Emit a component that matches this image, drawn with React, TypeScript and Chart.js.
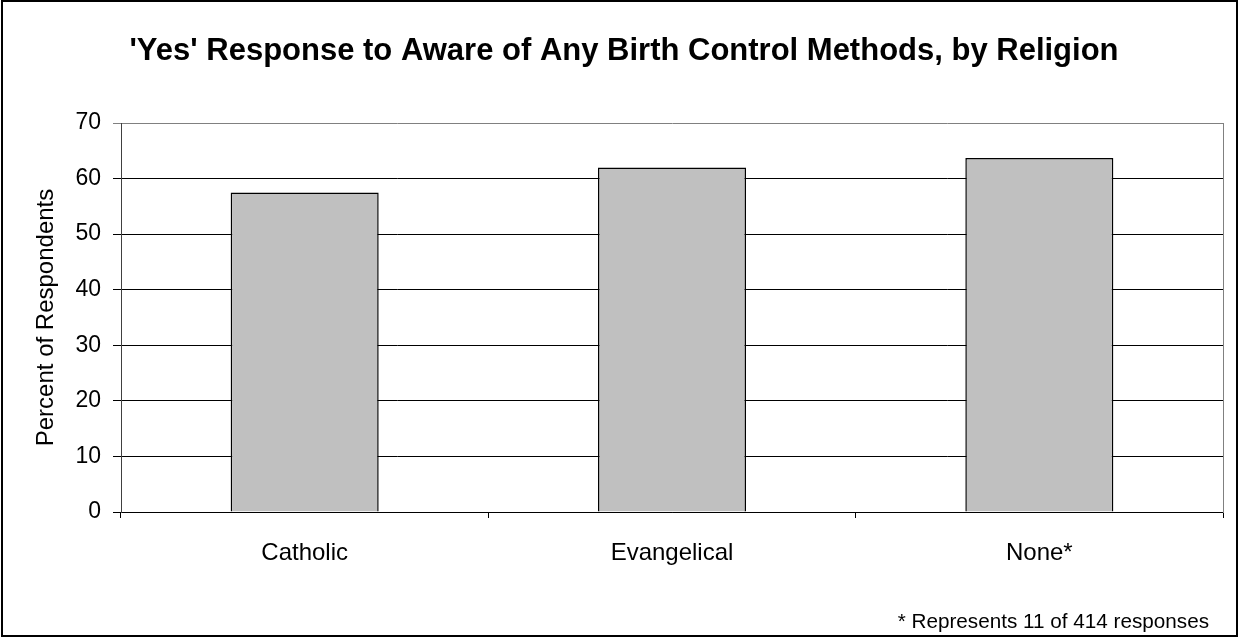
import React, { useEffect, useRef } from 'react';
import { Chart, registerables } from 'chart.js';

Chart.register(...registerables);

const categories: string[] = ['Catholic', 'Evangelical', 'None*'];
const yesPercent: number[] = [57.5, 62.0, 63.7];
const yMin = 0;
const yMax = 70;
const yStep = 10;
const titleText = "'Yes' Response to Aware of Any Birth Control Methods, by Religion";
const yAxisTitle = 'Percent of Respondents';
const footnote = '* Represents 11 of 414 responses';

const FONT = "'Liberation Sans', Arial, Helvetica, sans-serif";

const framePlugin = {
  id: 'frameAndNote',
  afterDraw(chart: any) {
    const { ctx, width, height } = chart;
    ctx.save();
    ctx.fillStyle = '#000';
    ctx.font = `20.7px ${FONT}`;
    ctx.textAlign = 'right';
    ctx.textBaseline = 'alphabetic';
    ctx.fillText(footnote, 1209, 628);
    ctx.strokeStyle = '#000';
    ctx.lineWidth = 2;
    ctx.strokeRect(2, 1, width - 3, height - 2);
    ctx.restore();
  },
};

export default function App() {
  const ref = useRef<HTMLCanvasElement | null>(null);
  useEffect(() => {
    if (!ref.current) return;
    const chart = new Chart(ref.current, {
      type: 'bar',
      data: {
        labels: categories,
        datasets: [
          {
            label: 'Yes',
            data: yesPercent,
            backgroundColor: '#c0c0c0',
            borderColor: '#000000',
            borderWidth: 1.5,
            barPercentage: 0.403,
            categoryPercentage: 1,
          },
        ],
      },
      options: {
        responsive: false,
        animation: false,
        layout: { padding: { left: 10, right: 0, top: 0, bottom: 0 } },
        plugins: {
          legend: { display: false },
          tooltip: { enabled: false },
          title: {
            display: true,
            text: titleText,
            color: '#000',
            font: { family: FONT, size: 31, weight: 'bold', lineHeight: 1.2 },
            padding: { top: 33, bottom: 52.8 },
          },
        },
        scales: {
          x: {
            offset: true,
            grid: {
              offset: true,
              drawOnChartArea: false,
              drawTicks: true,
              tickLength: 6,
              color: '#000',
            },
            border: { display: true, color: '#000', width: 1 },
            ticks: {
              color: '#000',
              font: { family: FONT, size: 24 },
              padding: 21,
              maxRotation: 0,
            },
            afterFit: (scale: any) => {
              scale.height = 125;
            },
          },
          y: {
            min: yMin,
            max: yMax,
            ticks: {
              stepSize: yStep,
              color: '#000',
              font: { family: FONT, size: 23 },
              padding: 12,
            },
            grid: {
              color: (ctx: any) => (ctx.tick && ctx.tick.value === yMax ? '#808080' : '#000'),
              tickLength: 8,
              drawTicks: true,
            },
            border: { display: true, color: '#404040', width: 1 },
            title: {
              display: true,
              text: yAxisTitle,
              color: '#000',
              font: { family: FONT, size: 24 },
              padding: { top: 22, bottom: 0 },
            },
            afterFit: (scale: any) => {
              scale.width = 111;
            },
          },
          y2: {
            position: 'right',
            min: yMin,
            max: yMax,
            grid: { display: false, drawTicks: false },
            ticks: { display: false },
            border: { display: true, color: '#808080', width: 1 },
            afterFit: (scale: any) => {
              scale.width = 15;
            },
          },
        },
      },
      plugins: [framePlugin],
    } as any);
    return () => chart.destroy();
  }, []);

  return (
    <div style={{ position: 'fixed', left: 0, top: 0, width: 1238, height: 637, background: '#fff' }}>
      <canvas ref={ref} width={1238} height={637} style={{ display: 'block' }} />
    </div>
  );
}
